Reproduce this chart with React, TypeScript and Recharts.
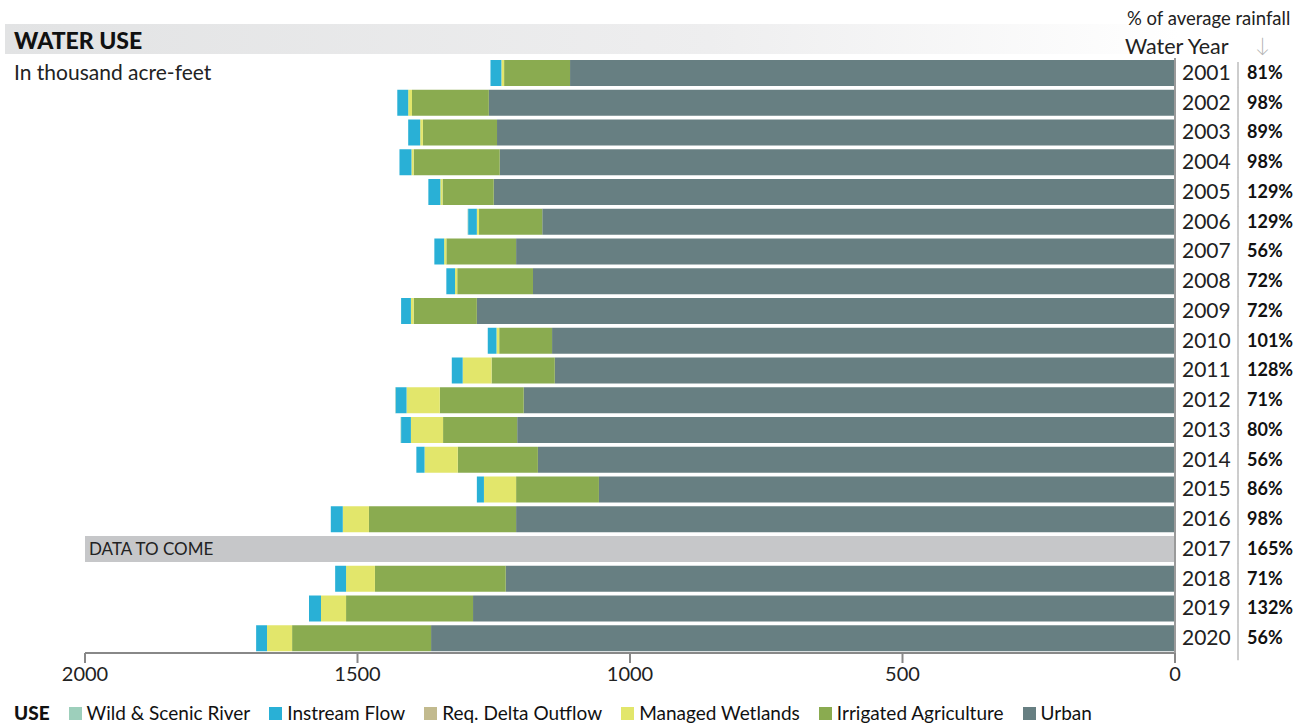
import { Bar, BarChart, LabelList, XAxis, YAxis } from "recharts";

const years = [
  "2001", "2002", "2003", "2004", "2005", "2006", "2007", "2008", "2009", "2010",
  "2011", "2012", "2013", "2014", "2015", "2016", "2017", "2018", "2019", "2020",
];
const rainfall = [
  "81%", "98%", "89%", "98%", "129%", "129%", "56%", "72%", "72%", "101%",
  "128%", "71%", "80%", "56%", "86%", "98%", "165%", "71%", "132%", "56%",
];

// thousand acre-feet
const urban = [1110, 1259, 1244, 1239, 1250, 1161, 1209, 1178, 1281, 1143, 1138, 1195, 1207, 1169, 1057, 1209, 0, 1228, 1288, 1365];
const irrigatedAg = [121, 141, 136, 158, 94, 116, 128, 139, 116, 97, 116, 154, 136, 147, 152, 270, 0, 240, 233, 255];
const managedWetlands = [5, 7, 5, 4, 4, 4, 4, 4, 5, 5, 53, 61, 59, 61, 59, 48, 0, 53, 46, 46];
const reqDeltaOutflow = [0, 0, 0, 0, 0, 0, 0, 0, 0, 0, 0, 0, 0, 0, 0, 0, 0, 0, 0, 0];
const instreamFlow = [20, 20, 22, 22, 22, 16, 18, 16, 18, 16, 20, 20, 18, 15, 13, 22, 0, 20, 22, 20];
const wildScenic = [0, 0, 0, 0, 0, 1, 0, 0, 0, 0, 0, 1, 1, 0, 0, 0, 0, 0, 0, 0];
const dataToCome = [0, 0, 0, 0, 0, 0, 0, 0, 0, 0, 0, 0, 0, 0, 0, 0, 2000, 0, 0, 0];

const series = [
  { key: "urban", name: "Urban", color: "#677f82" },
  { key: "irrigatedAg", name: "Irrigated Agriculture", color: "#8aab50" },
  { key: "managedWetlands", name: "Managed Wetlands", color: "#e2e66b" },
  { key: "reqDeltaOutflow", name: "Req. Delta Outflow", color: "#c2ba8e" },
  { key: "instreamFlow", name: "Instream Flow", color: "#29b0d6" },
  { key: "wildScenic", name: "Wild & Scenic River", color: "#9dcfbb" },
];

const data = years.map((year, i) => ({
  year,
  rainfall: rainfall[i],
  urban: urban[i],
  irrigatedAg: irrigatedAg[i],
  managedWetlands: managedWetlands[i],
  reqDeltaOutflow: reqDeltaOutflow[i],
  instreamFlow: instreamFlow[i],
  wildScenic: wildScenic[i],
  dataToCome: dataToCome[i],
}));

const font = "Lato, 'Open Sans', sans-serif";

function YearTick(props: any) {
  const { x, y, payload, index } = props;
  const last = index === years.length - 1;
  return (
    <g>
      <text x={x - 1} y={y} dy={7} fontSize={21} fill="#222" fontFamily={font}>
        {payload.value}
      </text>
      <line
        x1={x + 55}
        x2={x + 55}
        y1={index === 0 ? y - 11 : y - 15}
        y2={last ? y + 22 : y + 15}
        stroke="#bdbdbd"
        strokeWidth={1.5}
      />
      <text x={x + 64} y={y} dy={6} fontSize={18} fontWeight={700} fill="#111" fontFamily={font}>
        {rainfall[years.indexOf(payload.value)]}
      </text>
    </g>
  );
}

function DataToComeLabel(props: any) {
  const { x, y, width, height, value } = props;
  if (!value) return null;
  const left = Math.min(x, x + width);
  return (
    <text x={left + 4} y={y + height / 2} dy={6} fontSize={17} fill="#222" fontFamily={font}>
      DATA TO COME
    </text>
  );
}

export default function App() {
  const legendItems = [...series].reverse();
  return (
    <div
      style={{
        position: "absolute",
        left: 0,
        top: 0,
        width: 1309,
        height: 725,
        fontFamily: font,
        background: "#fff",
        overflow: "hidden",
      }}
    >
      <div
        style={{
          position: "absolute",
          left: 5,
          top: 24,
          width: 1175,
          height: 30,
          background: "linear-gradient(to right, #e2e3e4 0%, #eeeeef 60%, #ffffff 100%)",
        }}
      />
      <div
        style={{
          position: "absolute",
          left: 14,
          top: 25,
          fontSize: 23,
          fontWeight: 900,
          color: "#111",
          lineHeight: "30px",
        }}
      >
        WATER USE
      </div>
      <div style={{ position: "absolute", left: 14, top: 59, fontSize: 21, color: "#222", lineHeight: "26px" }}>
        In thousand acre-feet
      </div>
      <div style={{ position: "absolute", left: 1127, top: 7, fontSize: 18.5, color: "#222", lineHeight: "22px" }}>
        % of average rainfall
      </div>
      <div style={{ position: "absolute", left: 1125, top: 34, fontSize: 21.5, color: "#222", lineHeight: "24px" }}>
        Water Year
      </div>
      <div style={{ position: "absolute", left: 1255, top: 32, fontSize: 20, fontWeight: 300, color: "#b0b0b0", lineHeight: "24px" }}>
        ↓
      </div>

      <BarChart
        width={1309}
        height={725}
        data={data}
        layout="vertical"
        barSize={26}
        margin={{ top: 58, right: 0, bottom: 42, left: 85 }}
        style={{ position: "absolute", left: 0, top: 0 }}
      >
        <XAxis
          type="number"
          domain={[0, 2000]}
          ticks={[0, 500, 1000, 1500, 2000]}
          reversed
          tickSize={10}
          tickMargin={4}
          axisLine={{ stroke: "#888", strokeWidth: 2 }}
          tickLine={{ stroke: "#888", strokeWidth: 2 }}
          tick={{ fontSize: 20, fill: "#222", fontFamily: font }}
        />
        <YAxis
          type="category"
          dataKey="year"
          orientation="right"
          width={134}
          axisLine={{ stroke: "#9a9a9a", strokeWidth: 2 }}
          tickLine={false}
          tick={<YearTick />}
          interval={0}
        />
        {series.map((s) => (
          <Bar key={s.key} dataKey={s.key} name={s.name} stackId="use" fill={s.color} isAnimationActive={false} />
        ))}
        <Bar dataKey="dataToCome" stackId="use" fill="#c6c7c9" isAnimationActive={false}>
          <LabelList dataKey="dataToCome" content={<DataToComeLabel />} />
        </Bar>
      </BarChart>

      <div
        style={{
          position: "absolute",
          left: 14,
          top: 702,
          display: "flex",
          alignItems: "center",
          fontSize: 19,
          color: "#111",
          lineHeight: "22px",
          whiteSpace: "nowrap",
        }}
      >
        <span style={{ fontWeight: 900, marginRight: 19 }}>USE</span>
        {legendItems.map((s) => (
          <span key={s.key} style={{ display: "flex", alignItems: "center", marginRight: 19 }}>
            <span style={{ width: 13, height: 13, background: s.color, marginRight: 5, display: "inline-block" }} />
            {s.name}
          </span>
        ))}
      </div>
    </div>
  );
}
